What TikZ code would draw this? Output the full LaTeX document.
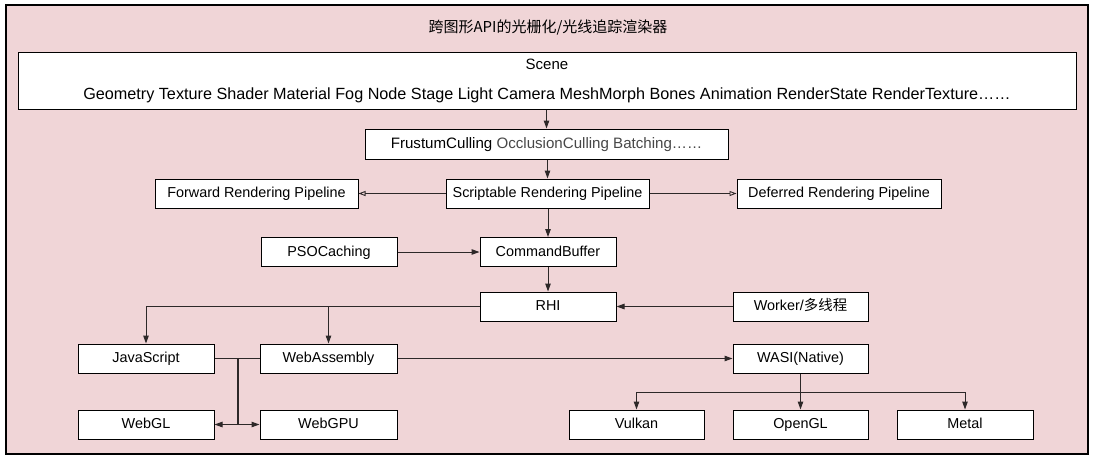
\documentclass[tikz,border=0pt]{standalone}
\usepackage{fontspec}
\setmainfont{Liberation Sans}
\newfontfamily\cjk{Noto Sans CJK SC}
\usetikzlibrary{arrows.meta}
\definecolor{bgpink}{RGB}{240,213,215}
\definecolor{linegray}{RGB}{45,40,40}
\begin{document}
\begin{tikzpicture}[x=1pt,y=-1pt,
  box/.style={draw=black, fill=white, line width=1pt, inner sep=0pt,
    minimum height=29pt, minimum width=136pt, font=\fontsize{14.4}{17}\selectfont},
  onel/.style={text height=10pt, text depth=2pt},
  conn/.style={draw=linegray, line width=1pt, -{Triangle[length=8pt,width=5.5pt]}},
  openconn/.style={draw=linegray, line width=0.9pt, -{Triangle[open,length=7pt,width=5pt]}},
  plainline/.style={draw=linegray, line width=1pt}]
\useasboundingbox (0,0) rectangle (1097,461);
\fill[white] (0,0) rectangle (1097,461);
\draw[fill=bgpink, line width=1.2pt] (6,5) rectangle (1088,454);
\node[font=\cjk\fontsize{15}{18}\selectfont] (title) at (548,27) {跨图形API的光栅化/光线追踪渲染器};

\node[box, minimum width=1058pt, minimum height=57pt, align=center] (scene) at (547,80.5)
  {{\fontsize{15}{17}\selectfont Scene}\\[13pt]{\fontsize{16.2}{18}\selectfont Geometry Texture Shader Material Fog Node Stage Light Camera MeshMorph Bones Animation RenderState RenderTexture……}};
\node[box, onel, minimum width=363pt, minimum height=30pt, font=\fontsize{15.1}{17}\selectfont] (frustum) at (546.5,144)
  {FrustumCulling {\color{black!72}OcclusionCulling Batching……}};
\node[box, onel, minimum width=203pt] (forward) at (256.5,193.5) {Forward Rendering Pipeline};
\node[box, onel, minimum width=203pt] (srp) at (547.5,193.5) {Scriptable Rendering Pipeline};
\node[box, onel, minimum width=204pt] (deferred) at (839,193.5) {Deferred Rendering Pipeline};
\node[box, onel] (pso) at (329,252) {PSOCaching};
\node[box, onel] (cb) at (548,252) {CommandBuffer};
\node[box, onel] (rhi) at (548,306.5) {RHI};
\node[box, onel, minimum width=135pt] (worker) at (800.5,306.5) {Worker/{\cjk 多线程}};
\node[box, onel] (js) at (146,358.5) {JavaScript};
\node[box, onel, minimum width=137pt] (wa) at (328.5,358.5) {WebAssembly};
\node[box, onel, minimum width=135pt] (wasi) at (800.5,358.5) {WASI(Native)};
\node[box, onel] (webgl) at (146,424.5) {WebGL};
\node[box, onel, minimum width=137pt] (webgpu) at (328.5,424.5) {WebGPU};
\node[box, onel, minimum width=135pt] (vulkan) at (636.5,424.5) {Vulkan};
\node[box, onel, minimum width=135pt] (opengl) at (800.5,424.5) {OpenGL};
\node[box, onel] (metal) at (965,424.5) {Metal};

% connectors
\draw[conn] (frustum.north |- scene.south) -- (frustum.north);
\draw[conn] (srp.north |- frustum.south) -- (srp.north);
\draw[openconn] (srp.west) -- (forward.east);
\draw[openconn] (srp.east) -- (deferred.west);
\draw[conn] (cb.north |- srp.south) -- (cb.north);
\draw[conn] (pso.east) -- (cb.west);
\draw[conn] (cb.south) -- (rhi.north);
\draw[conn] (worker.west) -- (rhi.east);
\draw[conn] (rhi.west) -| (js.north);
\draw[conn] (wa.north |- rhi.west) -- (wa.north);

\coordinate (jt) at (238,358.5);
\coordinate (jb) at (238,424.5);
\draw[plainline] (js.east) -- (jt);
\draw[plainline] (wa.west) -- (jt);
\draw[plainline, line width=1.6pt] (jt) -- (jb);
\draw[conn] (jb) -- (webgl.east);
\draw[conn] (jb) -- (webgpu.west);

\draw[conn] (wa.east) -- (wasi.west);
\coordinate (bus) at (800.5,392);
\draw[conn] (wasi.south) -- (opengl.north);
\draw[conn] (bus) -| (vulkan.north);
\draw[conn] (bus) -| (metal.north);
\end{tikzpicture}
\end{document}
